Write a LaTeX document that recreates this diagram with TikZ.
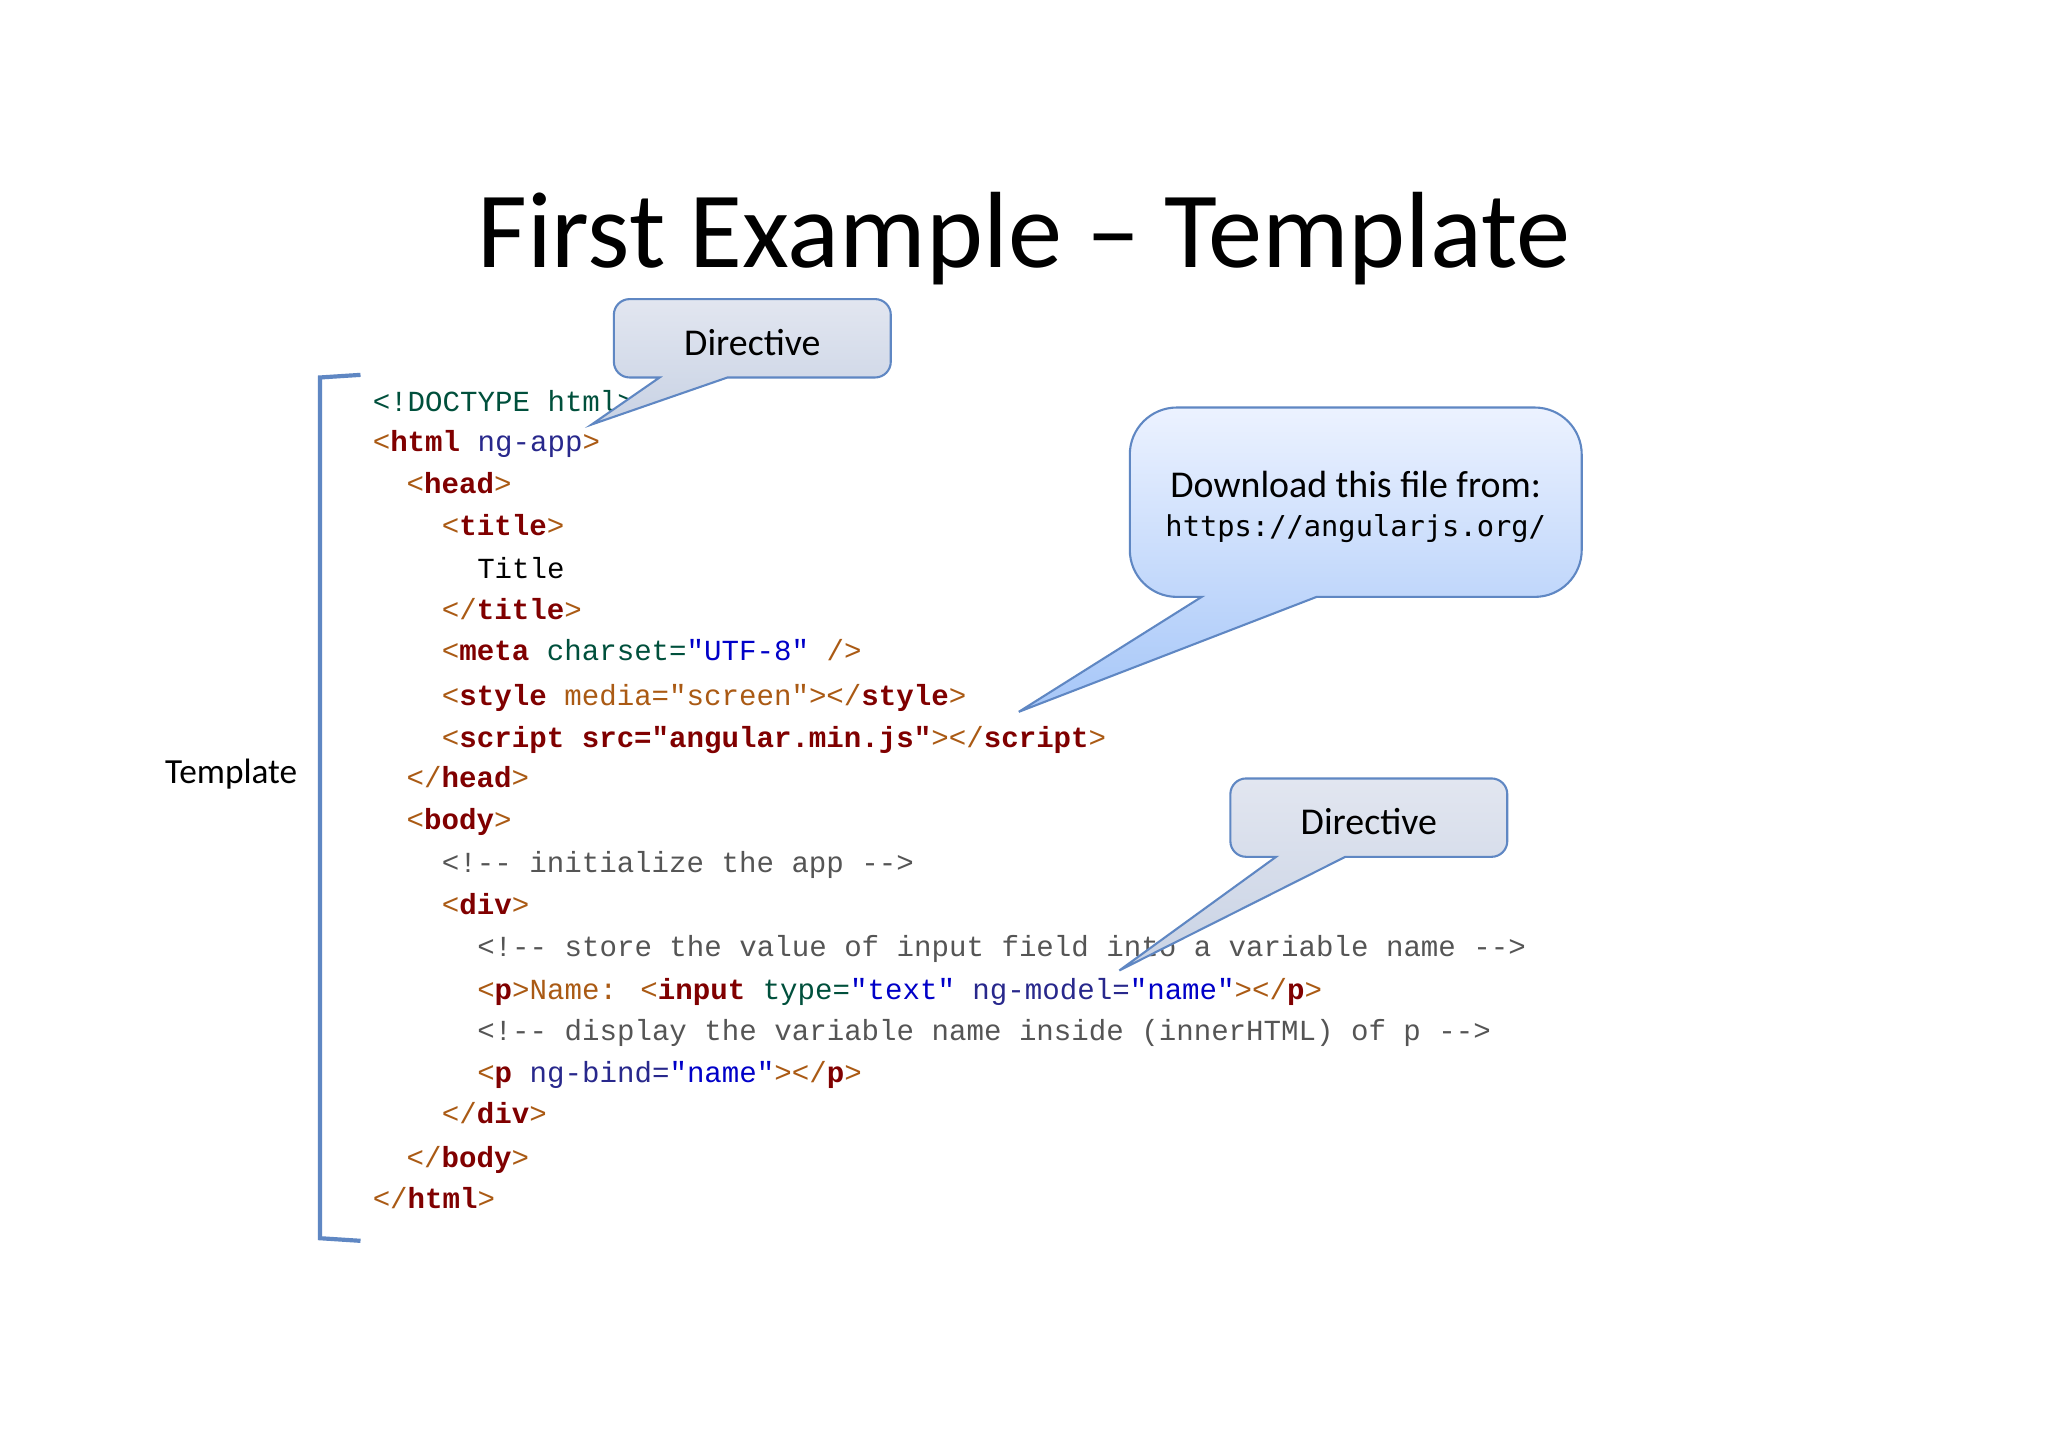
\documentclass[tikz,border=0pt]{standalone}
\usepackage{fontspec}
\setmainfont{Carlito}
\newfontfamily\cf{Liberation Mono}
\newfontfamily\uf{DejaVu Sans Mono}
\definecolor{tagc}{RGB}{128,0,0}
\definecolor{brc}{RGB}{170,90,20}
\definecolor{navyc}{RGB}{40,40,140}
\definecolor{grnc}{RGB}{0,80,60}
\definecolor{strc}{RGB}{0,0,200}
\definecolor{comc}{RGB}{85,85,85}
\definecolor{edgec}{RGB}{95,135,195}
\definecolor{gtop}{RGB}{226,230,240}
\definecolor{gbot}{RGB}{200,210,228}
\definecolor{btop}{RGB}{236,242,255}
\definecolor{bbot}{RGB}{165,198,248}
\newcommand{\tg}[1]{\textcolor{tagc}{\bfseries #1}}
\newcommand{\bk}[1]{\textcolor{brc}{#1}}
\newcommand{\nv}[1]{\textcolor{navyc}{#1}}
\newcommand{\gr}[1]{\textcolor{grnc}{#1}}
\newcommand{\st}[1]{\textcolor{strc}{#1}}
\newcommand{\cm}[1]{\textcolor{comc}{#1}}
\begin{document}
\begin{tikzpicture}[x=0.5pt,y=-0.5pt,
  code/.style={anchor=base west,inner sep=0pt,font=\cf\fontsize{11.15}{13}\selectfont},
  lbl/.style={inner sep=0pt,font=\fontsize{14.5}{18}\selectfont},
  gcall/.style={draw=edgec,line width=0.8pt,top color=gtop,bottom color=gbot},
  bcall/.style={draw=edgec,line width=0.8pt,top color=btop,bottom color=bbot}]
\useasboundingbox[fill=white] (0,0) rectangle (1568,1108);
\node[inner sep=0pt,font=\fontsize{41.5}{48}\selectfont] (title) at (784,183) {First Example -- Template};
% bracket
\draw[edgec,line width=1.6pt] (276,287) -- (245,289) -- (245,948) -- (276,950);
\node[lbl,font=\fontsize{13.5}{16}\selectfont] (tmpl) at (177,593) {Template};
% code
\node[code] (l1) at (285,315) {\gr{<!DOCTYPE html>}};
\node[code] (l2) at (285,346) {\bk{<}\tg{html} \nv{ng-app}\bk{>}};
\node[code] (l3) at (311,378) {\bk{<}\tg{head}\bk{>}};
\node[code] (l4) at (338,410) {\bk{<}\tg{title}\bk{>}};
\node[code] (l5) at (365,443) {Title};
\node[code] (l6) at (338,474) {\bk{</}\tg{title}\bk{>}};
\node[code] (l7) at (338,506) {\bk{<}\tg{meta} \gr{charset=}\st{"UTF-8"} \bk{/>}};
\node[code] (l8) at (338,540) {\bk{<}\tg{style} \bk{media="screen"></}\tg{style}\bk{>}};
\node[code] (l9) at (338,572) {\bk{<}\tg{script src="angular.min.js"}\bk{></}\tg{script}\bk{>}};
\node[code] (l10) at (311,603) {\bk{</}\tg{head}\bk{>}};
\node[code] (l11) at (311,635) {\bk{<}\tg{body}\bk{>}};
\node[code] (l12) at (338,668) {\cm{<!-{}- initialize the app -{}->}};
\node[code] (l13) at (338,700) {\bk{<}\tg{div}\bk{>}};
\node[code] (l14) at (365,732) {\cm{<!-{}- store the value of input field into a variable name -{}->}};
\node[code] (l15) at (365,765) {\bk{<}\tg{p}\bk{>Name: <}\tg{input} \gr{type=}\st{"text"} \nv{ng-model=}\st{"name"}\bk{></}\tg{p}\bk{>}};
\node[code] (l16) at (365,797) {\cm{<!-{}- display the variable name inside (innerHTML) of p -{}->}};
\node[code] (l17) at (365,829) {\bk{<}\tg{p} \nv{ng-bind=}\st{"name"}\bk{></}\tg{p}\bk{>}};
\node[code] (l18) at (338,860) {\bk{</}\tg{div}\bk{>}};
\node[code] (l19) at (311,894) {\bk{</}\tg{body}\bk{>}};
\node[code] (l20) at (285,925) {\bk{</}\tg{html}\bk{>}};
% callout 1
\path[gcall] (453,325) -- (557,289) [rounded corners=6] -- (682,289) -- (682,229) -- (470,229) -- (470,289) [sharp corners] -- (505,289) -- cycle;
\node[lbl] (d1) at (576,262) {Directive};
% callout 2
\path[bcall] (780,545) -- (1008,457) [rounded corners=18] -- (1211,457) -- (1211,312) -- (865,312) -- (865,457) [sharp corners] -- (920,457) -- cycle;
\node[lbl] (dl) at (1038,371) {Download this file from:};
\node[inner sep=0pt,font=\uf\fontsize{11}{13}\selectfont] (url) at (1038,405) {https://angularjs.org/};
% callout 3
\path[gcall] (857,743) -- (1030,656) [rounded corners=6] -- (1154,656) -- (1154,596) -- (942,596) -- (942,656) [sharp corners] -- (977,656) -- cycle;
\node[lbl] (d2) at (1048,629) {Directive};
\end{tikzpicture}
\end{document}
